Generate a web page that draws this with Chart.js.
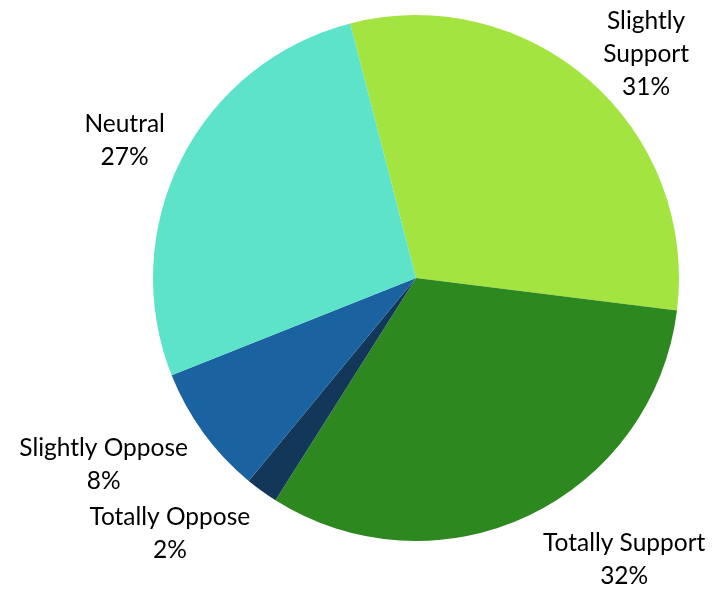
<!DOCTYPE html>
<html>
<head>
<meta charset="utf-8">
<script src="https://cdn.jsdelivr.net/npm/chart.js@4.4.0/dist/chart.umd.min.js"></script>
<style>
  html, body { margin: 0; padding: 0; background: #ffffff; }
  #pie { display: block; }
</style>
</head>
<body>
<canvas id="pie" width="717" height="589"></canvas>
<script>
// chart data
var categories = ['Slightly Support', 'Totally Support', 'Totally Oppose', 'Slightly Oppose', 'Neutral'];
var percents = [31, 32, 2, 8, 27];
var sliceColors = ['#a3e440', '#2e8820', '#123759', '#1a63a0', '#5ce3ca'];

// where each label sits: angle nudge (deg) from slice middle, and gap beyond the rim (px)
var labelNudge = [4.5, -11.2, 8.0, 5.2, -1.7];
var labelGap = [58, 87, 92, 101, 59];
var labelLines = [['Slightly', 'Support'], ['Totally Support'], ['Totally Oppose'], ['Slightly Oppose'], ['Neutral']];

var FONT = '24.5px Lato, "Liberation Sans", sans-serif';
var LINE_H = 33;

var outsideLabels = {
    id: 'outsideLabels',
    afterDatasetsDraw: function(chart) {
        var ctx = chart.ctx;
        var meta = chart.getDatasetMeta(0);
        ctx.save();
        ctx.font = FONT;
        ctx.fillStyle = '#000000';
        ctx.textAlign = 'center';
        ctx.textBaseline = 'middle';
        meta.data.forEach(function(arc, i) {
            var p = arc.getProps(['x', 'y', 'startAngle', 'endAngle', 'outerRadius'], true);
            var mid = (p.startAngle + p.endAngle) / 2 + labelNudge[i] * Math.PI / 180;
            var dist = p.outerRadius + labelGap[i];
            var cx = p.x + Math.cos(mid) * dist;
            var cy = p.y + Math.sin(mid) * dist;
            var lines = labelLines[i].concat([percents[i] + '%']);
            var top = cy - (lines.length - 1) * LINE_H / 2;
            lines.forEach(function(txt, k) {
                ctx.fillText(txt, cx, top + k * LINE_H);
            });
        });
        ctx.restore();
    }
};

var ctx = document.getElementById('pie').getContext('2d');
var pieChart = new Chart(ctx, {
    type: 'pie',
    data: {
        labels: categories,
        datasets: [{
            data: percents,
            backgroundColor: sliceColors,
            borderWidth: 0
        }]
    },
    options: {
        responsive: false,
        animation: false,
        rotation: -14.5,
        layout: { padding: { left: 153, right: 38, top: 15, bottom: 48 } },
        plugins: {
            legend: { display: false },
            tooltip: { enabled: false }
        }
    },
    plugins: [outsideLabels]
});
</script>
</body>
</html>
